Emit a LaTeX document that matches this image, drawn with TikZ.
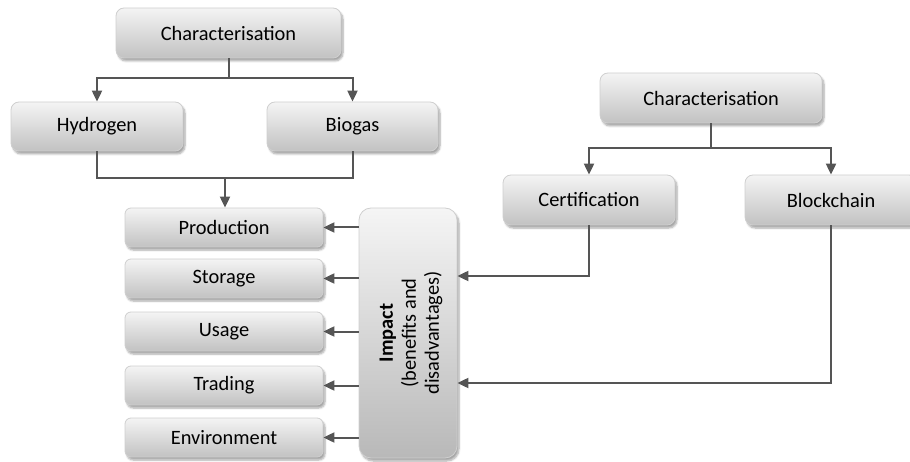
\documentclass[tikz,border=0pt]{standalone}
\usepackage{fontspec}
\setmainfont{Carlito}
\usetikzlibrary{shadows.blur,arrows.meta}
\definecolor{boxtop}{HTML}{F4F4F4}
\definecolor{boxbot}{HTML}{C2C2C2}
\definecolor{boxline}{HTML}{CFCFCF}
\definecolor{conn}{HTML}{555555}
\tikzset{
  box/.style={draw=boxline, line width=0.8pt, rounded corners=8pt, top color=boxtop, bottom color=boxbot,
    blur shadow={shadow xshift=2pt, shadow yshift=-3pt, shadow blur steps=6, shadow opacity=35},
    font=\fontsize{20.4}{23}\selectfont, text=black, inner sep=0pt},
  bigbox/.style={box, minimum height=50pt},
  smallbox/.style={box, minimum width=198pt, minimum height=39pt, rounded corners=6pt},
  line/.style={draw=conn, line width=2pt},
  arr/.style={line, -{Triangle[length=11pt,width=10pt]}},
}
\begin{document}
\begin{tikzpicture}[x=1pt,y=-1pt]
\useasboundingbox (0,0) rectangle (910,462);
\clip (0,0) rectangle (910,462);
% left tree
\node[bigbox, minimum width=225pt] (c1) at (228.5,33) {Characterisation};
\node[bigbox, minimum width=172pt, minimum height=49pt] (hyd) at (97,126.5) {Hydrogen};
\node[bigbox, minimum width=171pt, minimum height=49pt] (bio) at (352.5,126.5) {Biogas};
\node[smallbox] (prod) at (224,227.5) {Production};
\node[smallbox] (stor) at (224,278.5) {Storage};
\node[smallbox] (usage) at (224,331.5) {Usage};
\node[smallbox] (trad) at (224,385.5) {Trading};
\node[smallbox] (env) at (224,437.5) {Environment};
\node[box, minimum width=98pt, minimum height=250pt, rounded corners=12pt, top color=boxtop!90!white, bottom color=boxbot!95!black] (imp) at (408,333) {};
\node[rotate=90, align=center, font=\fontsize{20.4}{23}\selectfont, text=black] (imptxt) at (411,333) {\textbf{Impact}\\(benefits and\\disadvantages)};
% right tree
\node[bigbox, minimum width=222pt] (c2) at (711,98) {Characterisation};
\node[bigbox, minimum width=172pt] (cert) at (589,200) {Certification};
\node[bigbox, minimum width=172pt] (blk) at (831,200) {Blockchain};
% connectors left
\coordinate (s1) at (228.5,78);
\draw[line] (c1.south) -- (s1);
\draw[arr] (s1) -| (hyd.north);
\draw[arr] (s1) -| (bio.north);
\coordinate (m1) at (225,178);
\draw[line] (hyd.south) |- (m1) -| (bio.south);
\draw[arr] (m1) -- (m1 |- prod.north);
\foreach \t in {prod,stor,usage,trad,env}
  \draw[arr] (imp.west |- \t) -- (\t.east);
% connectors right
\coordinate (s2) at (711,148);
\draw[line] (c2.south) -- (s2);
\draw[arr] (s2) -| (cert.north);
\draw[arr] (s2) -| (blk.north);
\coordinate (k1) at (589,276);
\draw[arr] (cert.south) -- (k1) -- (k1 -| imp.east);
\coordinate (k2) at (831,383);
\draw[arr] (blk.south) -- (k2) -- (k2 -| imp.east);
\end{tikzpicture}
\end{document}
